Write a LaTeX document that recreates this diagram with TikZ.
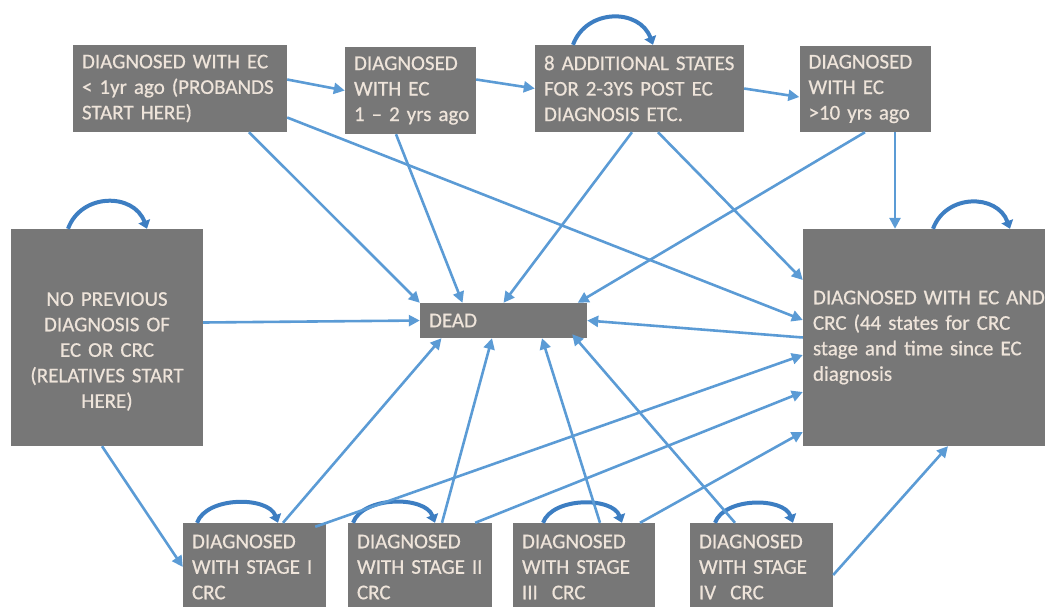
\documentclass[tikz,border=0pt]{standalone}
\usepackage{fontspec}
\setmainfont{Carlito}
\newfontfamily\boxfont{Carlito}[FakeBold=0.6]
\usetikzlibrary{arrows.meta}
\definecolor{boxgray}{HTML}{777777}
\definecolor{boxtext}{HTML}{EEE4DA}
\definecolor{arrowblue}{HTML}{5B9BD5}
\definecolor{loopblue}{HTML}{3D7EC2}
\tikzset{
state/.style={
	  fill=boxgray, text=boxtext, inner xsep=9pt, inner ysep=0pt,
	    align=left, font=\boxfont\fontsize{21}{25.5}\selectfont}
}

\begin{document}
\begin{tikzpicture}[x=1pt, y=-1pt,
	trans/.style={draw=arrowblue, line width=2.6pt, -{Triangle[length=11pt,width=11pt]}},
	selfloop/.style={draw=loopblue, line width=4pt, -{Triangle[length=8pt,width=12pt]}}]
	\useasboundingbox (0,0) rectangle (1045,606);
	\clip (0,0) rectangle (1045,606);
	\node[state, text width=196pt, minimum height=87pt] (ec1) at (180,88.5)
		{DIAGNOSED WITH EC\\< 1yr ago (PROBANDS\\START HERE)};
	\node[state, text width=113pt, minimum height=87pt] (ec2) at (410.5,90.5)
		{DIAGNOSED\\WITH EC\\\mbox{1 – 2 yrs ago}};
	\node[state, text width=191pt, minimum height=87pt] (ecmid) at (639.5,88.5)
		{8 ADDITIONAL STATES\\FOR 2-3YS POST EC\\DIAGNOSIS ETC.};
	\node[state, text width=113pt, minimum height=86pt] (ec10) at (865,89)
		{DIAGNOSED\\WITH EC\\>10 yrs ago};
	\node[state, align=center, text width=174pt, minimum height=217pt] (none) at (107,337.5)
		{\mbox{}\\[16pt]NO PREVIOUS\\DIAGNOSIS OF\\EC OR CRC\\(RELATIVES START\\HERE)};
	\node[state, text width=149pt, minimum height=35pt] (dead) at (503.5,320.5) {DEAD};
	\node[state, inner xsep=10pt, text width=242pt, minimum height=217pt] (eccrc) at (934,337.5)
		{DIAGNOSED WITH EC AND\\CRC (44 states for CRC\\stage and time since EC\\diagnosis};
	\node[state, text width=125pt, minimum height=88pt] (crc1) at (254.5,567)
		{DIAGNOSED\\WITH STAGE I\\CRC};
	\node[state, text width=126pt, minimum height=88pt] (crc2) at (420,567)
		{DIAGNOSED\\\mbox{WITH STAGE II}\\CRC};
	\node[state, text width=124pt, minimum height=88pt] (crc3) at (584,567)
		{DIAGNOSED\\WITH STAGE\\III\ \ CRC};
	\node[state, text width=125pt, minimum height=88pt] (crc4) at (761.5,567)
		{DIAGNOSED\\WITH STAGE\\IV\ \ CRC};

	% self loops
	\draw[selfloop] ([xshift=-66.5pt]ecmid.north) to[out=70,in=110,looseness=1.25] ([xshift=13.5pt]ecmid.north);
	\draw[selfloop] ([xshift=-39pt]none.north) to[out=70,in=110,looseness=1.25] ([xshift=40pt]none.north);
	\draw[selfloop] ([xshift=-1pt]eccrc.north) to[out=70,in=110,looseness=1.25] ([xshift=76pt]eccrc.north);
	\draw[selfloop] ([xshift=-57.5pt]crc1.north) to[out=70,in=110,looseness=0.9] ([xshift=23.5pt]crc1.north);
	\draw[selfloop] ([xshift=-67pt]crc2.north) to[out=70,in=110,looseness=0.9] ([xshift=15pt]crc2.north);
	\draw[selfloop] ([xshift=-41pt]crc3.north) to[out=70,in=110,looseness=0.9] ([xshift=38pt]crc3.north);
	\draw[selfloop] ([xshift=-46.5pt]crc4.north) to[out=70,in=110,looseness=0.9] ([xshift=31.5pt]crc4.north);

	% transitions
	\draw[trans] ([yshift=9pt]ec1.east) -- (ec2.west);
	\draw[trans] ([yshift=11pt]ec2.east) -- (ecmid.west);
	\draw[trans] (ecmid.east) -- ([yshift=-8pt]ec10.west);
	\draw[trans] ([xshift=69pt]ec1.south) -- (dead.north west);
	\draw[trans] ([xshift=-14.5pt]ec2.south) -- ([xshift=-41pt]dead.north);
	\draw[trans] ([yshift=-29pt]ec1.east) -- ([yshift=17.5pt]eccrc.west);
	\draw[trans] ([xshift=-7.5pt]ecmid.south) -- (dead.north);
	\draw[trans] ([xshift=18.5pt]ecmid.south) -- ([yshift=57.5pt]eccrc.west);
	\draw[trans] (ec10.south) -- ([xshift=-9.5pt]dead.north east);
	\draw[trans] ([xshift=30pt]ec10.south) -- ([xshift=30pt]ec10.south |- eccrc.north);
	\draw[trans] ([yshift=15pt]none.east) -- (dead.west);
	\draw[trans] (eccrc.west) -- (dead.east);
	\draw[trans] ([xshift=-5pt]none.south) -- (crc1.west);
	\draw[trans] ([xshift=28.5pt]crc1.north) -- ([xshift=-62pt]dead.south);
	\draw[trans] ([xshift=-11pt,yshift=-4pt]crc1.north east) -- ([yshift=-17.5pt]eccrc.west);
	\draw[trans] ([xshift=22pt]crc2.north) -- ([xshift=-11.5pt]dead.south);
	\draw[trans] ([xshift=-17pt]crc2.north east) -- ([yshift=-54.5pt]eccrc.west);
	\draw[trans] ([xshift=16pt]crc3.north) -- ([xshift=38.5pt]dead.south);
	\draw[trans] ([xshift=56pt]crc3.north) -- ([yshift=-94.5pt]eccrc.west);
	\draw[trans] ([xshift=-26.5pt]crc4.north) -- ([xshift=-15pt,yshift=4pt]dead.south east);
	\draw[trans] ([yshift=-8pt]crc4.east) -- ([xshift=14pt]eccrc.south);
\end{tikzpicture}
\end{document}
